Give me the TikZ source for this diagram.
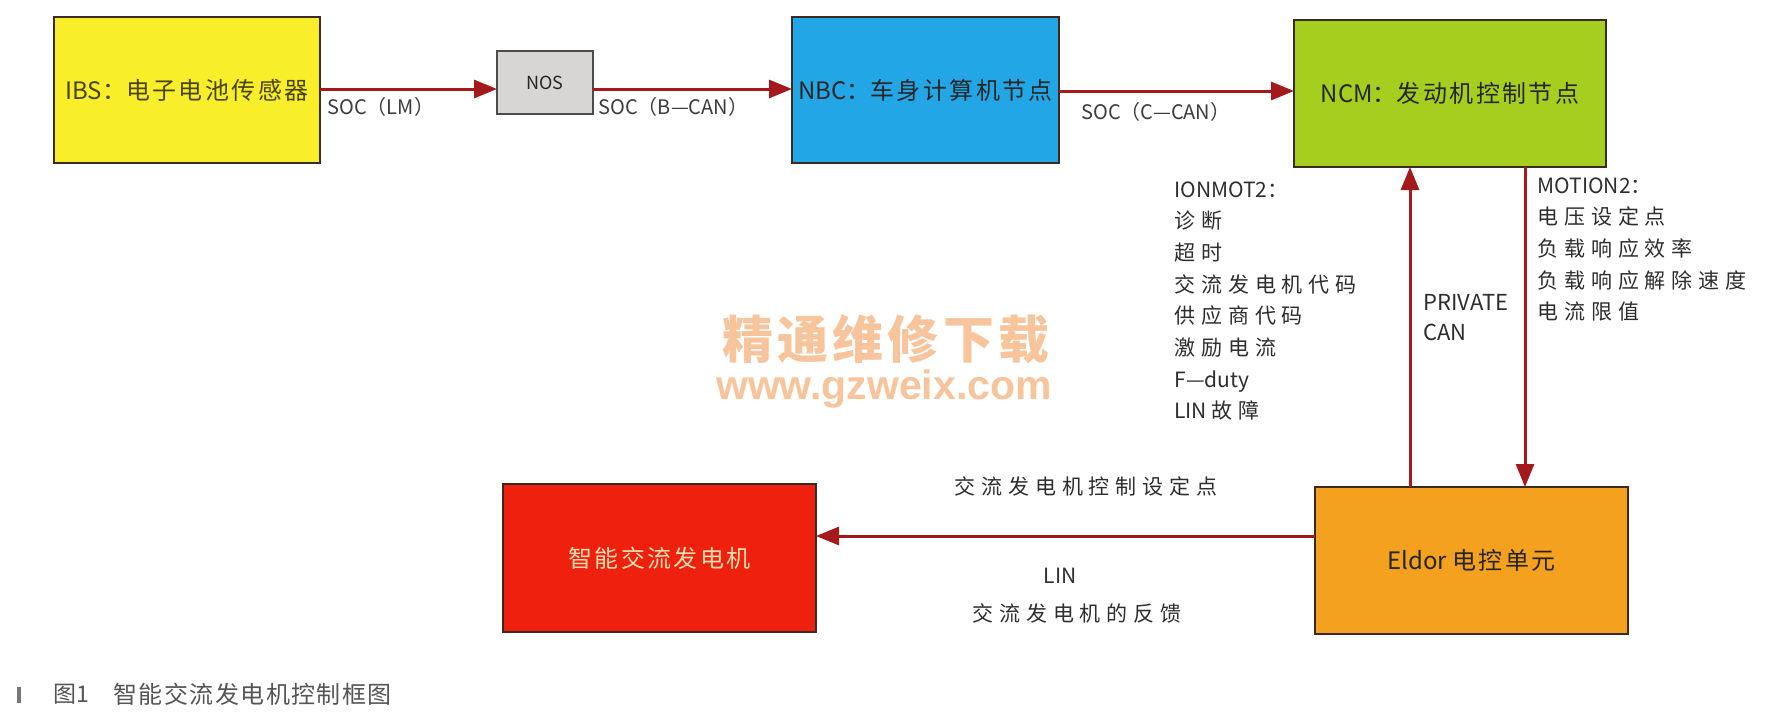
\documentclass[tikz,border=0pt]{standalone}
\usepackage{fontspec}
\setmainfont{Noto Sans CJK SC}
\newfontfamily\boxsp[LetterSpace=10]{Noto Sans CJK SC}
\newfontfamily\lsp[LetterSpace=28]{Noto Sans CJK SC}
\newfontfamily\capsp[LetterSpace=6]{Noto Sans CJK SC}
\newfontfamily\wmsp[LetterSpace=8]{Noto Sans CJK SC}
\newfontfamily\wmlat{Liberation Sans}
\usetikzlibrary{arrows.meta}
\definecolor{ylw}{HTML}{F9EE2A}
\definecolor{gryb}{HTML}{D8D6D4}
\definecolor{blu}{HTML}{22A6E6}
\definecolor{grn}{HTML}{A6CE1E}
\definecolor{org}{HTML}{F4A11F}
\definecolor{rdb}{HTML}{EF200E}
\definecolor{arr}{HTML}{A3191C}
\definecolor{bdr}{HTML}{3A2A22}
\definecolor{lbl}{HTML}{3C3C3C}
\definecolor{wm}{HTML}{F7C49C}
\definecolor{capc}{HTML}{555555}
\definecolor{ibstxt}{HTML}{4A4410}
\definecolor{alttxt}{HTML}{F6DDB0}
\tikzset{
  box/.style={draw=bdr, line width=1.2pt, inner sep=0pt, outer sep=0pt,
    font=\fontsize{12}{14}\selectfont, text=black!85},
  conn/.style={draw=arr, line width=1.5pt, -{Triangle[length=11.5pt,width=9pt]}},
  lab/.style={inner sep=0pt, text=lbl, font=\fontsize{10}{12}\selectfont},
  lst/.style={inner sep=0pt, text=black!82, font=\fontsize{10.5}{15.85}\selectfont,
    align=left, anchor=north west},
}
\begin{document}
\begin{tikzpicture}[x=0.5pt,y=-0.5pt]
\useasboundingbox (0,0) rectangle (1768,713);
\fill[white] (0,0) rectangle (1768,713);

% boxes
\node[box, fill=ylw, text=ibstxt, minimum width=133pt, minimum height=73pt] (ibs) at (187,90) {IBS：{\boxsp 电子电池传感器}};
\node[box, fill=gryb, draw=black!70, minimum width=48pt, minimum height=31.5pt, font=\fontsize{9}{11}\selectfont] (nos) at (545,82.5) {NOS};
\node[box, fill=blu, minimum width=133.5pt, minimum height=73pt] (nbc) at (925.5,90) {NBC：{\boxsp 车身计算机节点}};
\node[box, fill=grn, minimum width=156pt, minimum height=73.5pt] (ncm) at (1450,93.5) {NCM：{\boxsp 发动机控制节点}};
\node[box, fill=org, minimum width=156.5pt, minimum height=73.5pt] (eldor) at (1471.5,560.5) {Eldor {\boxsp 电控单元}};
\node[box, fill=rdb, text=alttxt, minimum width=156.5pt, minimum height=74pt] (alt) at (659.5,558) {\boxsp 智能交流发电机};

% helper coordinates
\coordinate (r1) at (0,89);
\coordinate (r2) at (0,91);
\coordinate (r3) at (0,536);
\coordinate (cu) at (1410,0);
\coordinate (cd) at (1525,0);

% connectors
\draw[conn] (ibs.east |- r1) -- (nos.west |- r1);
\draw[conn] (nos.east |- r1) -- (nbc.west |- r1);
\draw[conn] (nbc.east |- r2) -- (ncm.west |- r2);
\draw[conn] (eldor.north -| cu) -- (ncm.south -| cu);
\draw[conn] (ncm.south -| cd) -- (eldor.north -| cd);
\draw[conn] (eldor.west |- r3) -- (alt.east |- r3);

% connector labels
\node[lab, anchor=west] (l1) at (327,107) {SOC（LM）};
\node[lab, anchor=west] (l2) at (598,107) {SOC（B—CAN）};
\node[lab, anchor=west] (l3) at (1081,112) {SOC（C—CAN）};
\node[lst, anchor=west, font=\fontsize{11}{15}\selectfont] (pc) at (1423,318) {PRIVATE\\CAN};
\node[lst] (ion) at (1174,181) {IONMOT2：\\{\lsp 诊断}\\{\lsp 超时}\\{\lsp 交流发电机代码}\\{\lsp 供应商代码}\\{\lsp 激励电流}\\F—duty\\LIN {\lsp 故障}};
\node[lst] (mot) at (1537,177) {MOTION2：\\{\lsp 电压设定点}\\{\lsp 负载响应效率}\\{\lsp 负载响应解除速度}\\{\lsp 电流限值}};
\node[lab, text=black!82, font=\lsp\fontsize{10.5}{12}\selectfont] (b1) at (1086,486) {交流发电机控制设定点};
\node[lab, text=black!82, font=\fontsize{10.5}{12}\selectfont] (b2) at (1060,576) {LIN};
\node[lab, text=black!82, font=\lsp\fontsize{10.5}{12}\selectfont] (b3) at (1077,613) {交流发电机的反馈};

% watermark
\node[inner sep=0pt, text=wm, font=\wmsp\fontsize{25.5}{27}\selectfont\bfseries] (wm1) at (886,339) {精通维修下载};
\node[inner sep=0pt, text=wm, font=\wmlat\fontsize{20.5}{22}\selectfont\bfseries] (wm2) at (884,389) {www.gzweix.com};

% caption
\fill[capc!80] (17,687) rectangle (21,703);
\node[inner sep=0pt, anchor=west, text=capc, font=\fontsize{11.5}{13}\selectfont] (c1) at (53,694) {图1};
\node[inner sep=0pt, anchor=west, text=capc, font=\capsp\fontsize{12}{14}\selectfont] (c2) at (113,694) {智能交流发电机控制框图};
\end{tikzpicture}
\end{document}
